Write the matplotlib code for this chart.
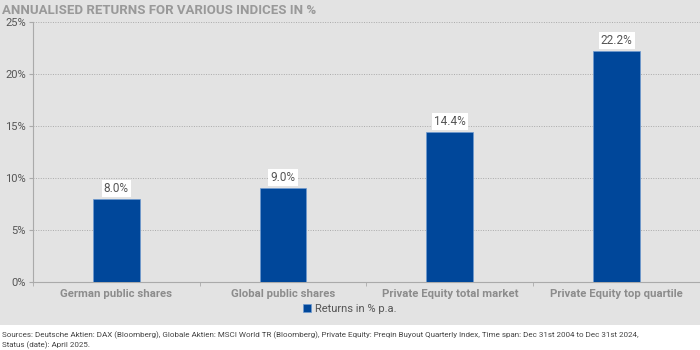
import matplotlib.pyplot as plt
from matplotlib.patches import Rectangle

plt.rcParams['font.family'] = ['Roboto', 'DejaVu Sans']

categories = ["German public shares", "Global public shares",
              "Private Equity total market", "Private Equity top quartile"]
returns = [8.0, 9.0, 14.4, 22.2]
yticks = [0, 5, 10, 15, 20, 25]
ytick_labels = ["0%", "5%", "10%", "15%", "20%", "25%"]

bg = "#e3e3e3"
bar_color = "#00479a"

fig = plt.figure(figsize=(7, 3.5), dpi=100)
fig.patch.set_facecolor("white")
fig.patches.append(Rectangle((0, 0.072), 1, 0.928, transform=fig.transFigure,
                             facecolor=bg, edgecolor="none", zorder=-10))

ax = fig.add_axes([0.047, 0.194, 0.953, 0.743])
ax.set_facecolor(bg)

x = range(len(categories))
ax.bar(x, returns, width=0.28, color=bar_color, edgecolor="#6f9bd0", linewidth=0.5,
       zorder=3, label="Returns in % p.a.")

for xi, v in zip(x, returns):
    ax.text(xi, v + 0.4, f"{v:.1f}%", ha="center", va="bottom", fontsize=8.5,
            color="#555555", zorder=4,
            bbox=dict(facecolor="white", edgecolor="none", pad=1.5))

ax.set_xlim(-0.5, len(categories) - 0.5)
ax.set_ylim(0, 25)
ax.set_yticks(yticks)
ax.set_yticklabels(ytick_labels, fontsize=8, color="#555555")
ax.set_xticks(x)
ax.set_xticklabels(categories, fontsize=8.2, color="#8c8c8c", fontweight="bold")
ax.set_xticks([i + 0.5 for i in range(-1, len(categories))], minor=True)
ax.tick_params(axis="x", which="major", length=0, pad=5)
ax.tick_params(axis="x", which="minor", length=3, color="#aaaaaa")
ax.tick_params(axis="y", length=3, color="#aaaaaa", pad=2)

ax.yaxis.grid(True, linestyle=(0, (1, 1.5)), color="#aaaaaa", linewidth=0.7, zorder=0)
for s in ["top", "right"]:
    ax.spines[s].set_visible(False)
ax.spines["left"].set_color("#aaaaaa")
ax.spines["bottom"].set_color("#aaaaaa")

ax.legend(loc="center", bbox_to_anchor=(0.475, -0.104), frameon=False,
          fontsize=8, handlelength=0.7, handleheight=0.7, handletextpad=0.3,
          labelcolor="#555555", borderpad=0)

fig.text(0.003, 0.97, "ANNUALISED RETURNS FOR VARIOUS INDICES IN %", fontsize=9.5,
         fontweight="bold", color="#999999", va="center")

fig.text(0.003, 0.028, "Sources: Deutsche Aktien: DAX (Bloomberg), Globale Aktien: MSCI World TR (Bloomberg), "
         "Private Equity: Preqin Buyout Quarterly Index, Time span: Dec 31st 2004 to Dec 31st 2024,\n"
         "Status (date): April 2025.", fontsize=5.8, color="#444444", va="center", linespacing=1.4)

fig.savefig("out.png", dpi=100, facecolor=fig.get_facecolor())
